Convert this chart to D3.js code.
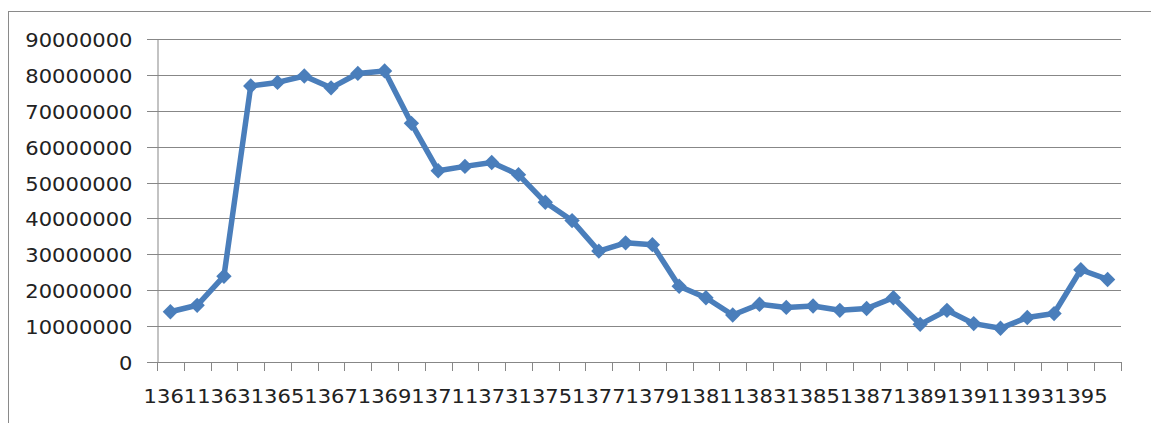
<!DOCTYPE html>
<html>
<head>
<meta charset="utf-8">
<script src="https://cdn.jsdelivr.net/npm/d3@7"></script>
<style>
  body { margin: 0; background: #fff; overflow: hidden; }
  svg { display: block; }
  svg text { font-family: "DejaVu Sans", sans-serif; fill: #222; }
</style>
</head>
<body>
<div class="chart"></div>
<script>
let years = d3.range(1361, 1397).map(String)
let values = [14.0, 15.8, 23.9, 76.9, 77.9, 79.7, 76.4, 80.4, 81.1, 66.5,
              53.3, 54.5, 55.6, 52.2, 44.5, 39.4, 30.9, 33.2, 32.7, 21.1,
              17.9, 13.1, 16.1, 15.2, 15.6, 14.4, 14.9, 17.9, 10.5, 14.4,
              10.7, 9.4, 12.4, 13.5, 25.7, 23.0].map(d => d * 1e6)
let yTicks = [0, 10000000, 20000000, 30000000, 40000000, 50000000, 60000000, 70000000, 80000000, 90000000]
let xLabels = years.filter((d, i) => i % 2 === 0)

let W = 1151, H = 423
let marginLeft = 157, marginTop = 39, plotW = 964, plotH = 323
let digitW = 13.4

let svg = d3.select('.chart').append('svg')
    .attr('width', W)
    .attr('height', H)

// outer frame
svg.append('rect')
    .attr('x', 8.5).attr('y', 11.5)
    .attr('width', W + 10).attr('height', H + 10)
    .attr('fill', 'none')
    .attr('stroke', '#8a8a8a')

let g = svg.append('g').attr('transform', `translate(${marginLeft},${marginTop})`)

let x = d3.scaleBand().domain(years).range([0, plotW]).padding(0)
let y = d3.scaleLinear().domain([0, 90000000]).range([plotH, 0])

// gridlines
g.selectAll('.grid')
    .data(yTicks.filter(d => d > 0))
    .enter().append('line')
    .attr('x1', -10).attr('x2', plotW)
    .attr('y1', d => Math.round(y(d)) + 0.5)
    .attr('y2', d => Math.round(y(d)) + 0.5)
    .attr('stroke', '#878787')

// y axis
let yAxis = d3.axisLeft(y).tickValues(yTicks).tickSize(10).tickPadding(15).tickFormat(d3.format('d'))
let ya = g.append('g').attr('transform', 'translate(0.5,0)').call(yAxis)
ya.select('.domain').attr('stroke', '#878787')
ya.selectAll('.tick line').attr('stroke', '#878787')
ya.selectAll('.tick').attr('transform', d => `translate(0,${Math.round(y(d)) + 0.5})`)
ya.selectAll('text')
    .style('font-size', '19.5px')
    .attr('dy', '0.36em')
    .attr('textLength', function() { return this.textContent.length * digitW })
    .attr('lengthAdjust', 'spacingAndGlyphs')

// x axis line
g.append('line')
    .attr('x1', -10).attr('x2', plotW)
    .attr('y1', plotH + 0.5).attr('y2', plotH + 0.5)
    .attr('stroke', '#878787')

// x ticks at category boundaries
let bounds = years.map(d => x(d)).concat([x(years[years.length - 1]) + x.bandwidth()])
g.selectAll('.xtick')
    .data(bounds)
    .enter().append('line')
    .attr('x1', d => Math.round(d) + 0.5).attr('x2', d => Math.round(d) + 0.5)
    .attr('y1', plotH).attr('y2', plotH + 9)
    .attr('stroke', '#878787')

// x labels
let xAxis = d3.axisBottom(x).tickValues(xLabels).tickSize(0).tickPadding(27)
let xa = g.append('g').attr('transform', `translate(0,${plotH})`).call(xAxis)
xa.select('.domain').remove()
xa.selectAll('text')
    .style('font-size', '19.5px')
    .attr('textLength', function() { return this.textContent.length * digitW })
    .attr('lengthAdjust', 'spacingAndGlyphs')

// line
let line = d3.line()
    .x((d, i) => x(years[i]) + x.bandwidth() / 2)
    .y(d => y(d))

g.append('path')
    .datum(values)
    .attr('d', line)
    .attr('fill', 'none')
    .attr('stroke', '#4a7ebb')
    .attr('stroke-width', 5.5)
    .attr('stroke-linejoin', 'round')

// diamond markers
g.selectAll('.marker')
    .data(values)
    .enter().append('path')
    .attr('d', d3.symbol().type(d3.symbolDiamond2).size(150))
    .attr('transform', (d, i) => `translate(${x(years[i]) + x.bandwidth() / 2},${y(d)})`)
    .attr('fill', '#4a7ebb')
</script>
</body>
</html>
